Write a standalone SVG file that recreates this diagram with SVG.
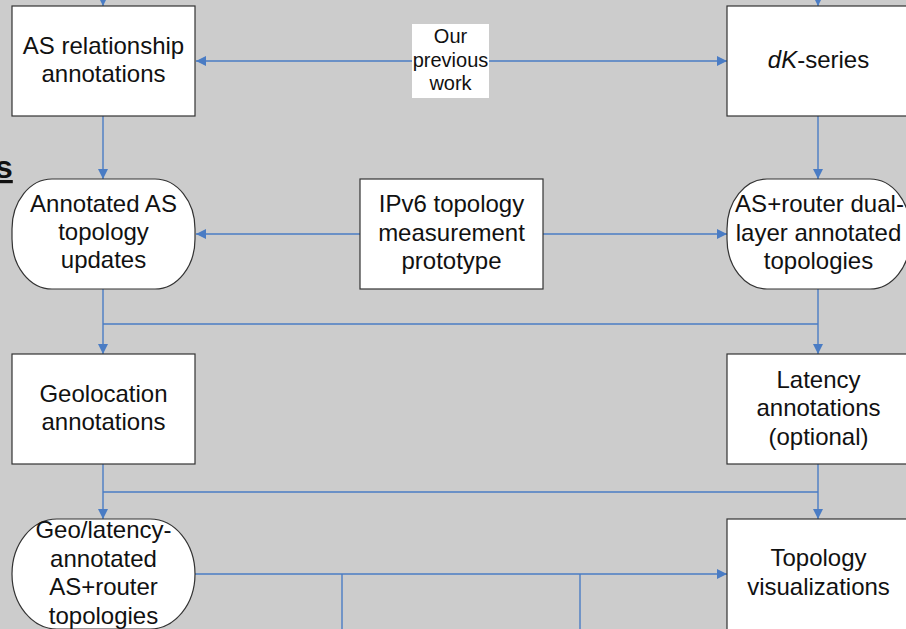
<svg xmlns="http://www.w3.org/2000/svg" width="906" height="629" viewBox="0 0 906 629">
<style>
.bg{fill:#cccccc}
.box{fill:#ffffff;stroke:#333333;stroke-width:1.2}
.t{font-family:"Liberation Sans",Arial,sans-serif;font-size:24px;fill:#111111;text-anchor:middle}
.s{font-size:20px}
.c{fill:none;stroke:#4a7cc4;stroke-width:1.4}
</style>
<defs>
<marker id="ah" markerUnits="userSpaceOnUse" markerWidth="10" markerHeight="10" refX="10" refY="5" orient="auto" viewBox="0 0 10 10">
<path d="M0,0 L10,5 L0,10 z" fill="#4a7cc4"/>
</marker>
</defs>
<rect class="bg" x="0" y="0" width="906" height="629"/>
<text x="-5" y="178" font-family="Liberation Sans,Arial,sans-serif" font-size="32" font-weight="bold" text-decoration="underline" fill="#111111">s</text>
<g id="connectors">
<line class="c" x1="103" y1="0" x2="103" y2="6" marker-end="url(#ah)"/>
<line class="c" x1="818" y1="0" x2="818" y2="6" marker-end="url(#ah)"/>
<line class="c" x1="412" y1="61" x2="196" y2="61" marker-end="url(#ah)"/>
<line class="c" x1="489" y1="61" x2="727" y2="61" marker-end="url(#ah)"/>
<line class="c" x1="103" y1="116" x2="103" y2="179" marker-end="url(#ah)"/>
<line class="c" x1="818" y1="116" x2="818" y2="179" marker-end="url(#ah)"/>
<line class="c" x1="360" y1="234" x2="196" y2="234" marker-end="url(#ah)"/>
<line class="c" x1="543" y1="234" x2="727" y2="234" marker-end="url(#ah)"/>
<line class="c" x1="103" y1="289" x2="103" y2="354" marker-end="url(#ah)"/>
<line class="c" x1="818" y1="289" x2="818" y2="354" marker-end="url(#ah)"/>
<line class="c" x1="103" y1="324" x2="818" y2="324"/>
<line class="c" x1="103" y1="464" x2="103" y2="519" marker-end="url(#ah)"/>
<line class="c" x1="818" y1="464" x2="818" y2="519" marker-end="url(#ah)"/>
<line class="c" x1="103" y1="492" x2="818" y2="492"/>
<line class="c" x1="195" y1="574" x2="727" y2="574" marker-end="url(#ah)"/>
<line class="c" x1="342" y1="574" x2="342" y2="629"/>
<line class="c" x1="580" y1="574" x2="580" y2="629"/>
</g>
<g id="label-previous">
<rect x="412" y="24" width="77" height="74" fill="#ffffff"/>
<text class="t s" x="450.5" y="43">Our</text>
<text class="t s" x="450.5" y="67">previous</text>
<text class="t s" x="450.5" y="90">work</text>
</g>
<g id="n-asrel">
<rect class="box" x="12" y="6" width="183" height="110"/>
<text class="t" x="103.5" y="54">AS relationship</text>
<text class="t" x="103.5" y="82">annotations</text>
</g>
<g id="n-dk">
<rect class="box" x="727" y="6" width="183" height="110"/>
<text class="t" x="818.5" y="68"><tspan font-style="italic">dK</tspan>-series</text>
</g>
<g id="n-annotated">
<rect class="box" x="12" y="179" width="183" height="110" rx="40" ry="50"/>
<text class="t" x="103.5" y="212">Annotated AS</text>
<text class="t" x="103.5" y="240">topology</text>
<text class="t" x="103.5" y="268">updates</text>
</g>
<g id="n-ipv6">
<rect class="box" x="360" y="179" width="183" height="110"/>
<text class="t" x="451.5" y="212">IPv6 topology</text>
<text class="t" x="451.5" y="240.5">measurement</text>
<text class="t" x="451.5" y="269">prototype</text>
</g>
<g id="n-dual">
<rect class="box" x="727" y="179" width="183" height="110" rx="40" ry="50"/>
<text class="t" x="819.5" y="212">AS+router dual-</text>
<text class="t" x="818.5" y="240.5">layer annotated</text>
<text class="t" x="818.5" y="269">topologies</text>
</g>
<g id="n-geo">
<rect class="box" x="12" y="354" width="183" height="110"/>
<text class="t" x="103.5" y="402">Geolocation</text>
<text class="t" x="103.5" y="430">annotations</text>
</g>
<g id="n-latency">
<rect class="box" x="727" y="354" width="183" height="110"/>
<text class="t" x="818.5" y="387.5">Latency</text>
<text class="t" x="818.5" y="416">annotations</text>
<text class="t" x="818.5" y="444.5">(optional)</text>
</g>
<g id="n-geolat">
<rect class="box" x="12" y="519" width="183" height="110" rx="45" ry="55"/>
<text class="t" x="103.5" y="538">Geo/latency-</text>
<text class="t" x="103.5" y="566.5">annotated</text>
<text class="t" x="103.5" y="595">AS+router</text>
<text class="t" x="103.5" y="623.5">topologies</text>
</g>
<g id="n-viz">
<rect class="box" x="727" y="519" width="183" height="120"/>
<text class="t" x="818.5" y="566">Topology</text>
<text class="t" x="818.5" y="595">visualizations</text>
</g>
</svg>
